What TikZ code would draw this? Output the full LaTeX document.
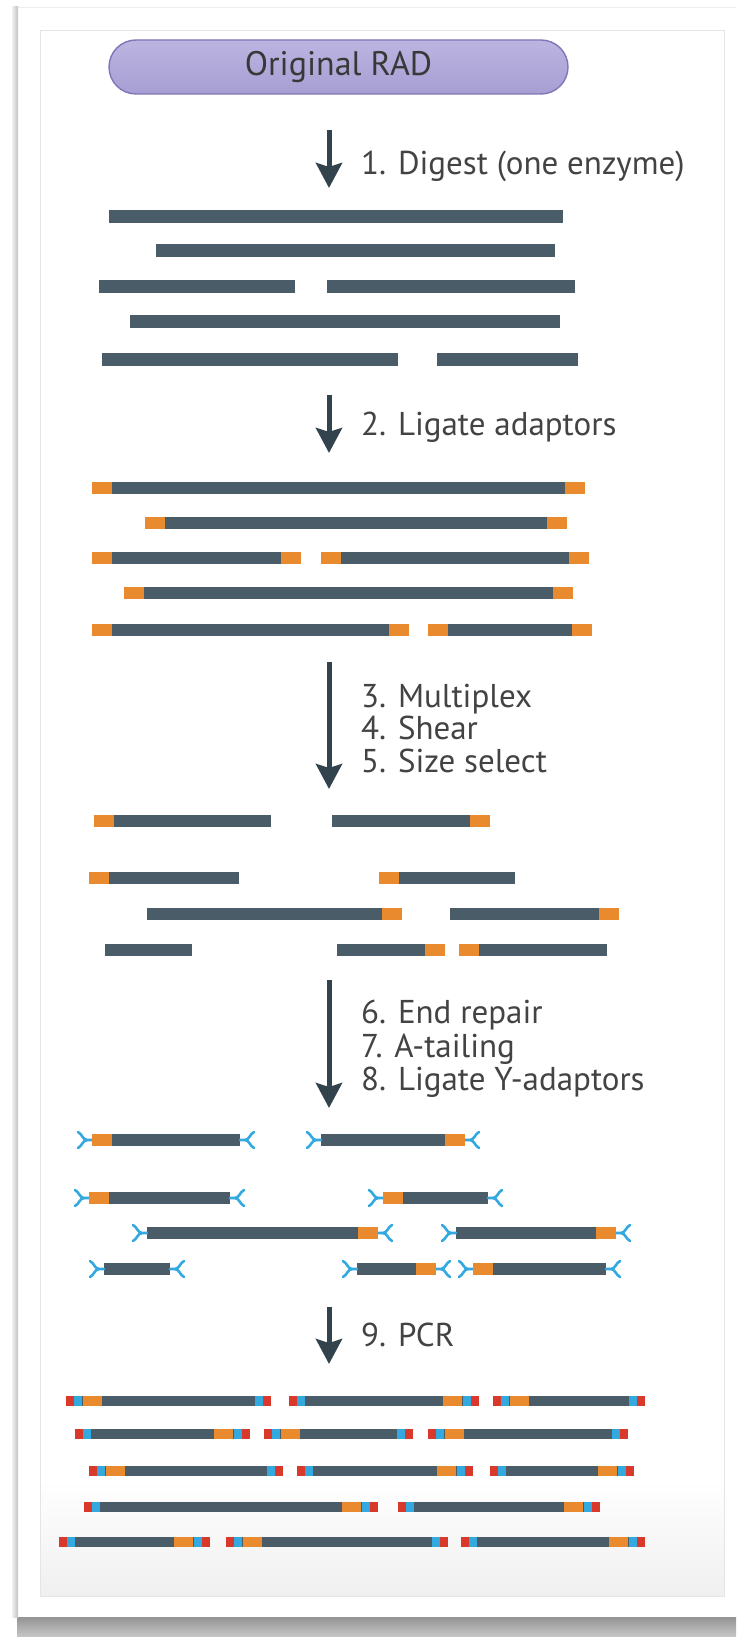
\documentclass[tikz,border=0pt]{standalone}
\usepackage{fontspec}
\setmainfont{PT Sans}
\usetikzlibrary{arrows.meta}
\definecolor{barc}{HTML}{4A5C68}
\definecolor{arrowc}{HTML}{33434E}
\definecolor{orng}{HTML}{E98A2F}
\definecolor{bluec}{HTML}{33A9E0}
\definecolor{redc}{HTML}{D8392B}
\definecolor{textc}{HTML}{434343}
\definecolor{pillfill}{HTML}{A79ED3}
\definecolor{pilltop}{HTML}{BCB4E0}
\definecolor{pilldraw}{HTML}{7F75B8}
\def\hh{6}
\newcommand{\sbar}[3]{\fill[barc] (#1,#3-\hh) rectangle (#2,#3+\hh);}
\newcommand{\oL}[2]{\fill[orng] (#1,#2-\hh) rectangle (#1+20,#2+\hh);}
\newcommand{\oR}[2]{\fill[orng] (#1-20,#2-\hh) rectangle (#1,#2+\hh);}
\newcommand{\obar}[3]{\sbar{#1}{#2}{#3}\oL{#1}{#3}\oR{#2}{#3}}
\newcommand{\yL}[2]{\draw[yad] (#1,#2) -- (#1-5,#2) .. controls (#1-9,#2) and (#1-10,#2-6) .. (#1-14,#2-8);
  \draw[yad] (#1-5,#2) .. controls (#1-9,#2) and (#1-10,#2+6) .. (#1-14,#2+8);}
\newcommand{\yR}[2]{\draw[yad] (#1,#2) -- (#1+5,#2) .. controls (#1+9,#2) and (#1+10,#2-6) .. (#1+14,#2-8);
  \draw[yad] (#1+5,#2) .. controls (#1+9,#2) and (#1+10,#2+6) .. (#1+14,#2+8);}
\newcommand{\ybar}[3]{\sbar{#1}{#2}{#3}\yL{#1}{#3}\yR{#2}{#3}}
\newcommand{\pcrbase}[3]{\fill[barc] (#1,#3-5) rectangle (#2,#3+5);
  \fill[redc] (#1,#3-5) rectangle (#1+8,#3+5);
  \fill[bluec] (#1+8,#3-5) rectangle (#1+16,#3+5);
  \fill[redc] (#2-8,#3-5) rectangle (#2,#3+5);
  \fill[bluec] (#2-16,#3-5) rectangle (#2-8,#3+5);}
\newcommand{\pcrL}[3]{\pcrbase{#1}{#2}{#3}\fill[orng] (#1+17,#3-5) rectangle (#1+36,#3+5);}
\newcommand{\pcrR}[3]{\pcrbase{#1}{#2}{#3}\fill[orng] (#2-36,#3-5) rectangle (#2-17,#3+5);}
\tikzset{
  yad/.style={draw=bluec, line width=2.6pt, line cap=round},
  steparrow/.style={draw=arrowc, line width=5pt, -{Stealth[length=25pt,width=26pt,inset=4pt]}},
  steplabel/.style={anchor=base west, inner sep=0pt, text=textc, font=\fontsize{33}{35}\selectfont},
  pill/.style={rounded corners=27pt, draw=pilldraw, line width=1.4pt, top color=pilltop, bottom color=pillfill,
    minimum width=459pt, minimum height=54pt, inner sep=0pt, text=black!78, font=\fontsize{34}{36}\selectfont}
}
\begin{document}
\begin{tikzpicture}[x=1pt,y=-1pt]
\useasboundingbox (0,0) rectangle (736,1637);
\fill[white] (0,0) rectangle (736,1637);
% card and its shadow
\shade[top color=black!42, bottom color=black!22] (17,1617) rectangle (736,1637);
\fill[white] (16,7) rectangle (736,1617);
\draw[black!7, line width=1pt] (16,7.5) -- (736,7.5);
\shade[left color=black!6, right color=black!24] (12,7) rectangle (18,1617);
% inner panel
\fill[white] (40,31) rectangle (724,1596);
\shade[top color=white, bottom color=black!6] (40,1480) rectangle (724,1596);
\draw[black!10, line width=1pt] (40,31) rectangle (724,1596);

% title
\node[pill] (title) at (338.5,67) {Original RAD};

% arrows
\coordinate (a1s) at (329,130); \coordinate (a1e) at (329,188);
\coordinate (a2s) at (329,395); \coordinate (a2e) at (329,453);
\coordinate (a3s) at (329,662); \coordinate (a3e) at (329,789);
\coordinate (a4s) at (329,980); \coordinate (a4e) at (329,1108);
\coordinate (a5s) at (329,1307); \coordinate (a5e) at (329,1364);
\draw[steparrow] (a1s) -- (a1e);
\draw[steparrow] (a2s) -- (a2e);
\draw[steparrow] (a3s) -- (a3e);
\draw[steparrow] (a4s) -- (a4e);
\draw[steparrow] (a5s) -- (a5e);

% labels
\node[steplabel] (t1) at (361,175) {1. Digest (one enzyme)};
\node[steplabel] (t2) at (361,435) {2. Ligate adaptors};
\node[steplabel] (t3) at (361,707) {3. Multiplex};
\node[steplabel] (t4) at (361,739) {4. Shear};
\node[steplabel] (t5) at (361,772) {5. Size select};
\node[steplabel] (t6) at (361,1023) {6. End repair};
\node[steplabel] (t7) at (361,1057) {7. A-tailing};
\node[steplabel] (t8) at (361,1090) {8. Ligate Y-adaptors};
\node[steplabel] (t9) at (361,1346) {9. PCR};

% step 1: digested fragments
\def\hh{6.5}
\sbar{109}{563}{217}
\sbar{156}{555}{250.5}
\sbar{99}{295}{286.5} \sbar{327}{575}{286.5}
\sbar{130}{560}{321.5}
\sbar{102}{398}{359} \sbar{437}{578}{359}

% step 2: adaptors ligated
\def\hh{6}
\obar{91.5}{584.5}{488}
\obar{144.5}{566.5}{523}
\obar{91.5}{300.5}{558} \obar{320.5}{589}{558}
\obar{123.5}{573}{593}
\obar{91.5}{408.5}{630} \obar{428}{591.5}{630}

% step 3-5: sheared, size selected
\sbar{94}{271}{821} \oL{94}{821}
\sbar{332}{490}{821} \oR{490}{821}
\sbar{89}{239}{878} \oL{89}{878}
\sbar{379}{515}{878} \oL{379}{878}
\sbar{147}{402}{914} \oR{402}{914}
\sbar{450}{619}{914} \oR{619}{914}
\sbar{105}{192}{950}
\sbar{337}{445}{950} \oR{445}{950}
\sbar{459}{607}{950} \oL{459}{950}

% step 6-8: Y adaptors
\ybar{92}{240}{1140} \oL{92}{1140}
\ybar{321}{465}{1140} \oR{465}{1140}
\ybar{89}{230}{1198} \oL{89}{1198}
\ybar{383}{488}{1198} \oL{383}{1198}
\ybar{147}{378}{1233} \oR{378}{1233}
\ybar{456}{616}{1233} \oR{616}{1233}
\ybar{104}{170}{1269}
\ybar{357}{436}{1269} \oR{436}{1269}
\ybar{473}{606}{1269} \oL{473}{1269}

% step 9: PCR products
\pcrL{66}{271}{1401} \pcrR{289}{479}{1401} \pcrL{493}{645}{1401}
\pcrR{75}{250}{1434} \pcrL{264}{413}{1434} \pcrL{428}{628}{1434}
\pcrL{89}{283}{1471} \pcrR{297}{473}{1471} \pcrR{490}{634}{1471}
\pcrR{84}{378}{1507} \pcrR{398}{600}{1507}
\pcrR{59}{210}{1542} \pcrL{226}{448}{1542} \pcrR{461}{645}{1542}
\end{tikzpicture}
\end{document}
